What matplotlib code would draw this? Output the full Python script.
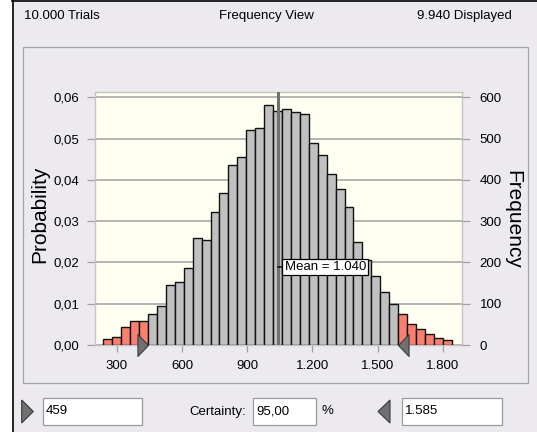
import matplotlib
matplotlib.use('Agg')
import numpy as np
import matplotlib.pyplot as plt
from matplotlib.patches import Rectangle, Polygon
from matplotlib.lines import Line2D

plt.rcParams['font.family'] = ['Liberation Sans', 'DejaVu Sans']

# histogram data (frequency per bin)
counts = [15, 19, 43, 58, 58,
          74, 95, 145, 153, 187, 260, 255, 323, 369, 436,
          455, 522, 525, 582, 568, 571, 564, 560, 490, 461,
          415, 377, 334, 249, 205, 167, 128, 99,
          74, 50, 38, 27, 16, 11]
bin_start = 238.3
bin_width = 41.1
trials = 10000
displayed = 9940
mean_value = 1040
cert_low = 459
cert_high = 1585
certainty = 95.00
x_ticks = [300, 600, 900, 1200, 1500, 1800]
freq_ticks = [0, 100, 200, 300, 400, 500, 600]
prob_ticks = [0.00, 0.01, 0.02, 0.03, 0.04, 0.05, 0.06]


def thou(v):
    return f"{v:,}".replace(',', '.')


def dec(v):
    return f"{v:.2f}".replace('.', ',')


W, H = 537, 432
BG = '#ECEAEF'
fig = plt.figure(figsize=(W / 100, H / 100), dpi=100, facecolor='white')


def px(x, y):
    return (x / W, 1 - y / H)


def rect(x0, y0, x1, y1, z=2, **kw):
    r = Rectangle(px(x0, y1), (x1 - x0) / W, (y1 - y0) / H,
                  transform=fig.transFigure, zorder=z, **kw)
    fig.patches.append(r)


def line(x0, y0, x1, y1, **kw):
    a, b = px(x0, y0)
    c, d = px(x1, y1)
    fig.lines.append(Line2D([a, c], [b, d], transform=fig.transFigure, **kw))


# window background and frame (kept behind the axes)
rect(12, 0, W, H, z=-5, facecolor=BG, edgecolor='none')
line(12.5, 0, 12.5, H, color='black', lw=1.2, zorder=-4)
line(12, 0.6, W, 0.6, color='black', lw=1.2, zorder=-4)
rect(22.7, 46.7, 528.3, 383.3, z=-4, facecolor='none', edgecolor='#A4A4A4', lw=0.9)

# header
fs = 9.5
fig.text(*px(24, 16), f"{thou(trials)} Trials", ha='left', va='center', fontsize=fs)
fig.text(*px(266.7, 16), "Frequency View", ha='center', va='center', fontsize=fs)
fig.text(*px(511.7, 16), f"{thou(displayed)} Displayed", ha='right', va='center', fontsize=fs)

# main plot
ax = fig.add_axes([95 / W, 1 - 345 / H, (461.7 - 95) / W, (345 - 91.7) / H])
ax.set_facecolor('#FFFFF2')
ytop = 0.06136
ax.set_xlim(200, 1887)
ax.set_ylim(0, ytop)

prob = np.array(counts) / trials
edges = bin_start + bin_width * np.arange(len(counts) + 1)
centers = (edges[:-1] + edges[1:]) / 2
colors = ['#F9806F' if (c < cert_low or c > cert_high) else '#C0C0C0' for c in centers]
ax.bar(edges[:-1], prob, width=bin_width, align='edge', color=colors,
       edgecolor='#111111', linewidth=1.0, zorder=3)

ax.set_yticks(prob_ticks)
ax.set_yticklabels([dec(v) for v in prob_ticks])
ax.set_xticks(x_ticks)
ax.set_xticklabels([thou(v) for v in x_ticks])
ax.yaxis.grid(True, color='#A8A8A8', linewidth=1.2)
ax.set_axisbelow(True)
for s in ax.spines.values():
    s.set_color('#C4C4C4')
    s.set_linewidth(1.0)
ax.tick_params(axis='y', direction='out', length=6, width=0.9, color='#A0A0A0',
               labelsize=fs, pad=5)
ax.tick_params(axis='x', direction='out', length=5, width=0.9, color='#A0A0A0',
               labelsize=fs, pad=6)

ax2 = ax.twinx()
ax2.set_ylim(0, ytop * trials)
ax2.set_yticks(freq_ticks)
ax2.set_yticklabels([str(v) for v in freq_ticks])
for s in ax2.spines.values():
    s.set_visible(False)
ax2.tick_params(axis='y', direction='out', length=6, width=0.9, color='#A0A0A0',
                labelsize=fs, pad=7)

# mean line and label
ax.axvline(mean_value, color='#707070', lw=2.2, zorder=4)
ax.annotate(f"Mean = {thou(mean_value)}", xy=(mean_value, 0.308),
            xycoords=('data', 'axes fraction'), xytext=(5, 0),
            textcoords='offset points', ha='left', va='center', fontsize=fs,
            bbox=dict(boxstyle='square,pad=0.18', fc='white', ec='black', lw=0.9),
            arrowprops=dict(arrowstyle='-', color='black', lw=1.0,
                            shrinkA=0, shrinkB=0), zorder=7)

# certainty grabbers
lo_edge = edges[np.argmin(np.abs(edges - cert_low))]
hi_edge = edges[np.argmin(np.abs(edges - cert_high))]
tri_r = [(0, 0), (-10.6, 11), (-10.6, -11), (0, 0)]
tri_l = [(0, 0), (10.6, 11), (10.6, -11), (0, 0)]
ax.plot([lo_edge], [0], marker=tri_r, ms=15.8, mfc='#707070', mec='#3A3A3A',
        mew=0.8, clip_on=False, zorder=8, ls='none')
ax.plot([hi_edge], [0], marker=tri_l, ms=15.8, mfc='#707070', mec='#3A3A3A',
        mew=0.8, clip_on=False, zorder=8, ls='none')

# axis titles
fig.text(*px(40, 214), "Probability", rotation=90, ha='center', va='center', fontsize=15)
fig.text(*px(512.5, 219), "Frequency", rotation=270, ha='center', va='center', fontsize=15)

# bottom controls
def tri(points, **kw):
    fig.patches.append(Polygon([px(x, y) for x, y in points], closed=True,
                               transform=fig.transFigure, **kw))


tri([(21.7, 400), (21.7, 423), (33.3, 411.5)], fc='#707070', ec='#3A3A3A', lw=0.8)
tri([(390, 400), (390, 423), (378, 411.5)], fc='#707070', ec='#3A3A3A', lw=0.8)

rect(42.7, 398, 141.7, 425, facecolor='white', edgecolor='#9A9A9A', lw=0.9)
rect(253, 398, 316, 425, facecolor='white', edgecolor='#9A9A9A', lw=0.9)
rect(401.7, 398, 501.7, 425, facecolor='white', edgecolor='#9A9A9A', lw=0.9)

fig.text(*px(45.5, 411.5), thou(cert_low), ha='left', va='center', fontsize=fs)
fig.text(*px(246, 411.5), "Certainty:", ha='right', va='center', fontsize=fs)
fig.text(*px(256, 411.5), dec(certainty), ha='left', va='center', fontsize=fs)
fig.text(*px(322, 411.5), "%", ha='left', va='center', fontsize=fs)
fig.text(*px(405, 411.5), thou(cert_high), ha='left', va='center', fontsize=fs)

fig.savefig('out.png', dpi=100, facecolor='white')
